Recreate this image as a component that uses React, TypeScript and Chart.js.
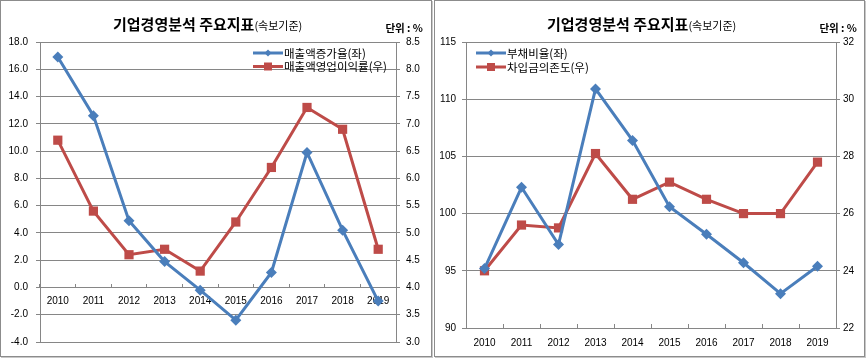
import React, { useEffect, useRef } from 'react';
import { Chart, registerables } from 'chart.js';

Chart.register(...registerables);

// ---------- data ----------
const years = ['2010', '2011', '2012', '2013', '2014', '2015', '2016', '2017', '2018', '2019'];
const salesGrowth = [16.9, 12.6, 4.9, 1.9, -0.2, -2.4, 1.1, 9.9, 4.2, -1.0];
const opMargin = [6.7, 5.4, 4.6, 4.7, 4.3, 5.2, 6.2, 7.3, 6.9, 4.7];
const debtRatio = [95.2, 102.3, 97.3, 110.9, 106.4, 100.6, 98.2, 95.7, 93.0, 95.4];
const borrowDependence = [24.0, 25.6, 25.5, 28.1, 26.5, 27.1, 26.5, 26.0, 26.0, 27.8];

const leftLabels = ['매출액증가율(좌)', '매출액영업이익률(우)'];
const rightLabels = ['부채비율(좌)', '차입금의존도(우)'];
const titleMain = '기업경영분석 주요지표';
const titleSub = '(속보기준)';
const unitText = '단위 : %';

// ---------- styles ----------
const BLUE = '#4A7EBB';
const RED = '#BE4B48';
const GRID = '#868686';
const TICK_FONT = { family: '"Liberation Sans", Arial, sans-serif', size: 10 };
const KR_FONT = '"Noto Sans CJK KR", "Noto Sans", sans-serif';

const inlineLegend = {
  id: 'inlineLegend',
  afterDraw(chart: any, _args: any, opts: any) {
    const { ctx } = chart;
    ctx.save();
    chart.data.datasets.forEach((ds: any, i: number) => {
      const y = opts.y + i * opts.gap;
      ctx.strokeStyle = ds.borderColor;
      ctx.lineWidth = 3;
      ctx.beginPath();
      ctx.moveTo(opts.x, y);
      ctx.lineTo(opts.x + opts.len, y);
      ctx.stroke();
      const cx = opts.x + opts.len / 2;
      ctx.fillStyle = ds.borderColor;
      ctx.beginPath();
      if (ds.pointStyle === 'rectRot') {
        const r = 3.5;
        ctx.moveTo(cx, y - r);
        ctx.lineTo(cx + r, y);
        ctx.lineTo(cx, y + r);
        ctx.lineTo(cx - r, y);
        ctx.closePath();
      } else {
        const h = 4;
        ctx.rect(cx - h, y - h, 2 * h, 2 * h);
      }
      ctx.fill();
      ctx.fillStyle = '#000';
      ctx.font = `11.5px ${KR_FONT}`;
      ctx.textBaseline = 'middle';
      ctx.textAlign = 'left';
      ctx.fillText(ds.label, opts.x + opts.len + 1, y + 0.5);
    });
    ctx.restore();
  },
};

function lineDs(label: string, data: number[], color: string, axis: string, style: string) {
  return {
    label,
    data,
    yAxisID: axis,
    borderColor: color,
    backgroundColor: color,
    pointBackgroundColor: color,
    pointBorderColor: color,
    pointBorderWidth: 0,
    pointStyle: style,
    pointRadius: style === 'rect' ? 6.5 : 5.5,
    borderWidth: 3,
    tension: 0,
    clip: false as any,
  };
}

function leftConfig(): any {
  return {
    type: 'line',
    data: {
      labels: years,
      datasets: [
        lineDs(leftLabels[0], salesGrowth, BLUE, 'y', 'rectRot'),
        lineDs(leftLabels[1], opMargin, RED, 'y1', 'rect'),
      ],
    },
    options: {
      responsive: false,
      animation: false,
      layout: { padding: { top: 42, bottom: 16, left: 0, right: 0 } },
      plugins: {
        legend: { display: false },
        tooltip: { enabled: false },
        inlineLegend: { x: 253, y: 53, gap: 13.5, len: 30 },
      },
      scales: {
        x: {
          type: 'category',
          position: { y: 0 },
          offset: true,
          grid: { display: true, drawOnChartArea: false, offset: true, tickLength: -4, color: GRID },
          border: { color: GRID },
          ticks: { font: TICK_FONT, color: '#000', padding: 12, maxRotation: 0, autoSkip: false },
          afterFit: (s: any) => { s.height = 0; },
        },
        y: {
          position: 'left',
          min: -4,
          max: 18,
          ticks: { stepSize: 2, font: TICK_FONT, color: '#000', padding: 8, callback: (v: any) => Number(v).toFixed(1) },
          grid: { color: GRID, tickLength: 4 },
          border: { color: GRID },
          afterFit: (s: any) => { s.width = 40; },
        },
        y1: {
          position: 'right',
          min: 3,
          max: 8.5,
          ticks: { stepSize: 0.5, font: TICK_FONT, color: '#000', padding: 6, callback: (v: any) => Number(v).toFixed(1) },
          grid: { drawOnChartArea: false, color: GRID, tickLength: 4 },
          border: { color: GRID },
          afterFit: (s: any) => { s.width = 37; },
        },
      },
    },
    plugins: [inlineLegend],
  };
}

function rightConfig(): any {
  return {
    type: 'line',
    data: {
      labels: years,
      datasets: [
        lineDs(rightLabels[0], debtRatio, BLUE, 'y', 'rectRot'),
        lineDs(rightLabels[1], borrowDependence, RED, 'y1', 'rect'),
      ],
    },
    options: {
      responsive: false,
      animation: false,
      layout: { padding: { top: 42, bottom: 0, left: 0, right: 0 } },
      plugins: {
        legend: { display: false },
        tooltip: { enabled: false },
        inlineLegend: { x: 42, y: 53, gap: 14, len: 30 },
      },
      scales: {
        x: {
          type: 'category',
          position: 'bottom',
          offset: true,
          grid: { display: true, drawOnChartArea: false, offset: true, tickLength: -4, color: GRID },
          border: { color: GRID },
          ticks: { font: TICK_FONT, color: '#000', padding: 13, maxRotation: 0, autoSkip: false },
          afterFit: (s: any) => { s.height = 30; },
        },
        y: {
          position: 'left',
          min: 90,
          max: 115,
          ticks: { stepSize: 5, font: TICK_FONT, color: '#000', padding: 6 },
          grid: { color: GRID, tickLength: 4 },
          border: { color: GRID },
          afterFit: (s: any) => { s.width = 32; },
        },
        y1: {
          position: 'right',
          min: 22,
          max: 32,
          ticks: { stepSize: 2, font: TICK_FONT, color: '#000', padding: 3 },
          grid: { drawOnChartArea: false, color: GRID, tickLength: 4 },
          border: { color: GRID },
          afterFit: (s: any) => { s.width = 30; },
        },
      },
    },
    plugins: [inlineLegend],
  };
}

function ChartBox({ left, width, makeConfig }: { left: number; width: number; makeConfig: () => any }) {
  const ref = useRef<HTMLCanvasElement | null>(null);
  useEffect(() => {
    if (!ref.current) return;
    const chart = new Chart(ref.current, makeConfig());
    return () => chart.destroy();
  }, []);
  return (
    <div
      style={{
        position: 'absolute',
        left,
        top: 0,
        width,
        height: 358,
      }}
    >
      <div
        style={{
          position: 'absolute',
          left: 0,
          top: 0,
          width: width - 1,
          height: 357,
          boxSizing: 'border-box',
          border: '1px solid #8c8c8c',
          boxShadow: '1px 1px 0 #c8c8c8',
        }}
      />
      <canvas
        ref={ref}
        width={width}
        height={358}
        style={{ position: 'absolute', left: 0, top: 0, width, height: 358 }}
      />
      <div
        style={{
          position: 'absolute',
          left: 113,
          top: 13,
          whiteSpace: 'nowrap',
          fontFamily: KR_FONT,
          color: '#000',
          lineHeight: '20px',
        }}
      >
        <span style={{ fontSize: 15, fontWeight: 'bold' }}>{titleMain}</span>
        <span style={{ fontSize: 11 }}>{titleSub}</span>
      </div>
      <div
        style={{
          position: 'absolute',
          right: width - 432 + 9,
          top: 21,
          whiteSpace: 'nowrap',
          fontFamily: KR_FONT,
          fontSize: 10.5,
          fontWeight: 'bold',
          color: '#000',
          lineHeight: '14px',
        }}
      >
        {unitText}
      </div>
    </div>
  );
}

export default function App() {
  return (
    <div
      style={{
        position: 'fixed',
        left: 0,
        top: 0,
        width: 866,
        height: 359,
        background: '#fff',
        overflow: 'hidden',
      }}
    >
      <ChartBox left={0} width={433} makeConfig={leftConfig} />
      <ChartBox left={434} width={432} makeConfig={rightConfig} />
    </div>
  );
}
